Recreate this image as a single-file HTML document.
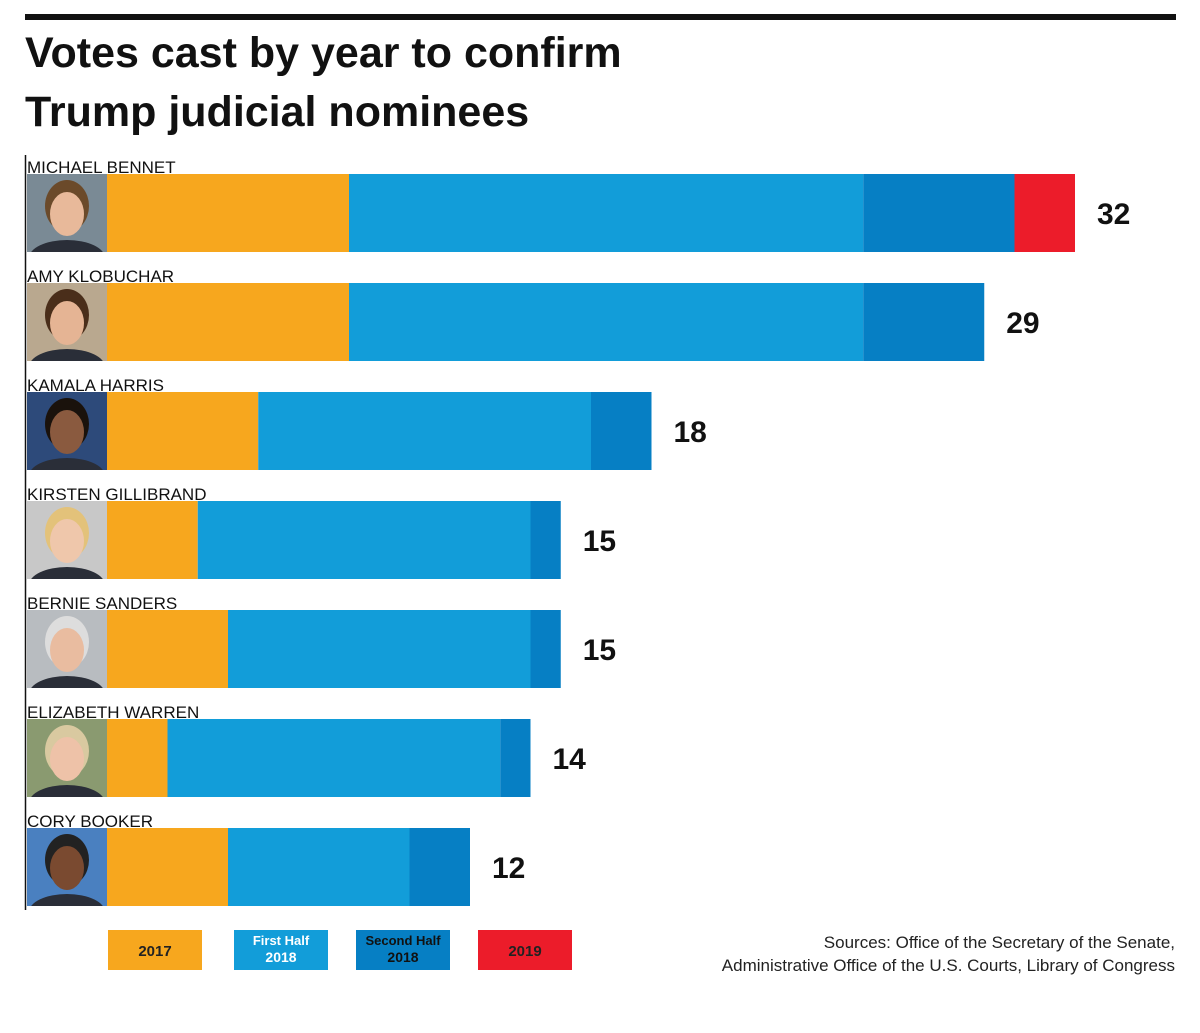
<!DOCTYPE html>
<html><head><meta charset="utf-8"><style>
body{margin:0;background:#fff;width:1200px;height:1028px;overflow:hidden;font-family:"Liberation Sans",sans-serif}
</style></head><body>
<svg id="c" width="1200" height="1028" xmlns="http://www.w3.org/2000/svg">
<rect x="25" y="14" width="1151" height="6" fill="#111"/>
<text x="25" y="67" font-size="43" font-weight="bold" fill="#111">Votes cast by year to confirm</text>
<text x="25" y="126" font-size="43" font-weight="bold" fill="#111">Trump judicial nominees</text>
<line x1="25.5" y1="155" x2="25.5" y2="910" stroke="#111" stroke-width="1.5"/>
<defs id="defs"></defs>
<g id="bars"></g>
<g>
<rect x="108" y="930" width="94" height="40" fill="#f7a71e"/>
<text x="155" y="956" font-size="15" font-weight="bold" text-anchor="middle" fill="#222">2017</text>
<rect x="234" y="930" width="94" height="40" fill="#129dd9"/>
<text x="281" y="945" font-size="13" font-weight="bold" text-anchor="middle" fill="#fff">First Half</text>
<text x="281" y="962" font-size="14" font-weight="bold" text-anchor="middle" fill="#fff">2018</text>
<rect x="356" y="930" width="94" height="40" fill="#067fc4"/>
<text x="403" y="945" font-size="13" font-weight="bold" text-anchor="middle" fill="#111">Second Half</text>
<text x="403" y="962" font-size="14" font-weight="bold" text-anchor="middle" fill="#111">2018</text>
<rect x="478" y="930" width="94" height="40" fill="#ec1c2a"/>
<text x="525" y="956" font-size="15" font-weight="bold" text-anchor="middle" fill="#222">2019</text>
</g>
<text x="1175" y="948" font-size="17" text-anchor="end" fill="#222">Sources: Office of the Secretary of the Senate,</text>
<text x="1175" y="971" font-size="17" text-anchor="end" fill="#222">Administrative Office of the U.S. Courts, Library of Congress</text>
</svg>
<script>
const names=["MICHAEL BENNET","AMY KLOBUCHAR","KAMALA HARRIS","KIRSTEN GILLIBRAND","BERNIE SANDERS","ELIZABETH WARREN","CORY BOOKER"];
const v2017=[8,8,5,3,4,2,4];
const vFirst2018=[17,17,11,11,10,11,6];
const vSecond2018=[5,4,2,1,1,1,2];
const v2019=[2,0,0,0,0,0,0];
const colors=["#f7a71e","#129dd9","#067fc4","#ec1c2a"];
const segNames=["2017","first-half-2018","second-half-2018","2019"];
const skin=["#e8b99a","#e5b494","#8a5a3f","#efc7ab","#e9bca0","#eec2a8","#7a4a30"];
const hair=["#6b4a2a","#4a2e1a","#1a120c","#e3c27a","#ddd","#d9c9a0","#222"];
const bg=["#7a8a95","#b9a88f","#2d4a7a","#c8c8c8","#b8bcc0","#8a9a70","#4a80c0"];
const x0=107, unit=30.25, top0=174, step=109, bh=78;
const xs=v=>x0+v*unit;
const g=document.getElementById('bars');
const defs=document.getElementById('defs');
const NS="http://www.w3.org/2000/svg";
function mk(t,a){const e=document.createElementNS(NS,t);for(const k in a)e.setAttribute(k,a[k]);return e;}
names.forEach((n,i)=>{
  const y=top0+i*step;
  const t=mk('text',{x:27,y:y-1,'font-size':17,fill:'#111'});t.textContent=n;
  
  
  g.appendChild(t);
  const cp=mk('clipPath',{id:'cp'+i});
  cp.appendChild(mk('rect',{x:27,y:y,width:80,height:bh}));
  defs.appendChild(cp);
  const p=mk('g',{'clip-path':'url(#cp'+i+')'});
  
  
  p.appendChild(mk('rect',{x:27,y:y,width:80,height:bh,fill:bg[i]}));
  p.appendChild(mk('ellipse',{cx:67,cy:y+bh+6,rx:38,ry:18,fill:'#2a2e38'}));
  p.appendChild(mk('ellipse',{cx:67,cy:y+32,rx:22,ry:26,fill:hair[i]}));
  p.appendChild(mk('ellipse',{cx:67,cy:y+40,rx:17,ry:22,fill:skin[i]}));
  g.appendChild(p);
  const vals=[v2017[i],vFirst2018[i],vSecond2018[i],v2019[i]];
  let acc=0;
  vals.forEach((v,k)=>{
    if(!v)return;
    const r=mk('rect',{x:xs(acc),y:y,width:xs(acc+v)-xs(acc),height:bh,fill:colors[k]});
    
    
    g.appendChild(r);acc+=v;
  });
  const l=mk('text',{x:xs(acc)+22,y:y+bh/2+11,'font-size':30,'font-weight':'bold',fill:'#111'});
  l.textContent=acc;
  
  
  g.appendChild(l);
});
</script>
</body></html>
